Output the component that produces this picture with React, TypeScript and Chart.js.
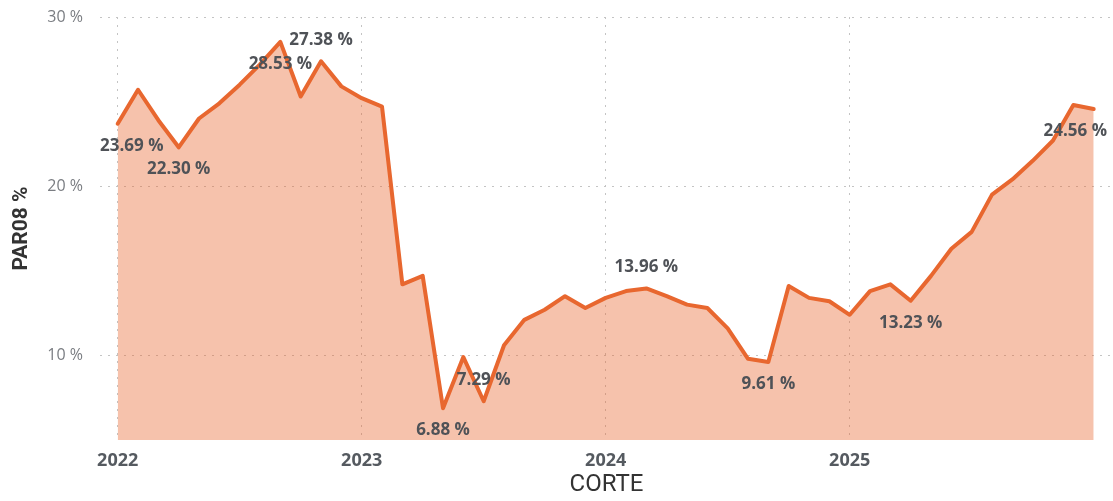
import React, { useEffect, useRef } from "react";
import { Chart, registerables } from "chart.js";

Chart.register(...registerables);

const months = [
  "2022-01", "2022-02", "2022-03", "2022-04", "2022-05", "2022-06", "2022-07", "2022-08", "2022-09", "2022-10", "2022-11", "2022-12",
  "2023-01", "2023-02", "2023-03", "2023-04", "2023-05", "2023-06", "2023-07", "2023-08", "2023-09", "2023-10", "2023-11", "2023-12",
  "2024-01", "2024-02", "2024-03", "2024-04", "2024-05", "2024-06", "2024-07", "2024-08", "2024-09", "2024-10", "2024-11", "2024-12",
  "2025-01", "2025-02", "2025-03", "2025-04", "2025-05", "2025-06", "2025-07", "2025-08", "2025-09", "2025-10", "2025-11", "2025-12",
  "2026-01",
];

const par08 = [
  23.69, 25.7, 23.9, 22.3, 24.0, 24.9, 26.0, 27.2, 28.53, 25.3, 27.38, 25.9,
  25.2, 24.7, 14.2, 14.7, 6.88, 9.9, 7.29, 10.6, 12.1, 12.7, 13.5, 12.8,
  13.4, 13.8, 13.96, 13.5, 13.0, 12.8, 11.6, 9.8, 9.61, 14.1, 13.4, 13.2,
  12.4, 13.8, 14.2, 13.23, 14.7, 16.3, 17.3, 19.5, 20.4, 21.5, 22.7, 24.8,
  24.56,
];

const yearTickIndex = [0, 12, 24, 36];
const yearTickLabels = ["2022", "2023", "2024", "2025"];
const yTicks = [10, 20, 30];

const labelIndex = [0, 3, 8, 10, 16, 18, 26, 32, 39, 48];
const labelSide = ["below", "below", "below", "above", "below", "above", "above", "below", "below", "below"];

const LINE = "#E8672F";
const FILL = "rgba(232,103,47,0.40)";

const dataLabelPlugin = {
  id: "pointLabels",
  afterDatasetsDraw(chart: any) {
    const ctx = chart.ctx;
    const meta = chart.getDatasetMeta(0);
    ctx.save();
    ctx.font = "bold 17px 'Open Sans', sans-serif";
    ctx.fillStyle = "#4f5257";
    ctx.textAlign = "center";
    ctx.textBaseline = "middle";
    labelIndex.forEach((idx, k) => {
      const pt = meta.data[idx];
      if (!pt) return;
      const text = par08[idx].toFixed(2) + " %";
      const w = ctx.measureText(text).width;
      let x = pt.x;
      if (x - w / 2 < chart.chartArea.left) x = chart.chartArea.left + w / 2;
      if (x + w / 2 > chart.width - 6) x = chart.width - 6 - w / 2;
      const y = labelSide[k] === "above" ? pt.y - 21 : pt.y + 22;
      ctx.fillText(text, x, y);
    });
    ctx.restore();
  },
};

export default function App() {
  const ref = useRef<HTMLCanvasElement | null>(null);

  useEffect(() => {
    if (!ref.current) return;
    const chart = new Chart(ref.current, {
      type: "line",
      data: {
        datasets: [
          {
            label: "PAR08 %",
            data: months.map((m, i) => ({ x: i, y: par08[i] })),
            borderColor: LINE,
            backgroundColor: FILL,
            borderWidth: 4,
            fill: "start",
            pointRadius: 0,
            tension: 0,
            borderJoinStyle: "round",
            borderCapStyle: "round",
          },
        ],
      },
      options: {
        animation: false,
        responsive: true,
        maintainAspectRatio: false,
        layout: { padding: { top: 17, right: 0, left: 0, bottom: 0 } },
        plugins: {
          legend: { display: false },
          tooltip: { enabled: false },
        },
        scales: {
          x: {
            type: "linear",
            min: -0.87,
            max: 48.95,
            afterBuildTicks: (scale: any) => {
              scale.ticks = yearTickIndex.map((v) => ({ value: v }));
            },
            afterFit: (scale: any) => {
              scale.height = 61;
              scale.paddingLeft = 0;
              scale.paddingRight = 0;
            },
            ticks: {
              padding: 10,
              color: "#555a60",
              font: { family: "'Open Sans', sans-serif", size: 18, weight: "bold" },
              callback: (v: any) => {
                const k = yearTickIndex.indexOf(Number(v));
                return k >= 0 ? yearTickLabels[k] : "";
              },
              maxRotation: 0,
              autoSkip: false,
            },
            grid: {
              color: "#c4c4c4",
              lineWidth: 1,
              drawTicks: false,
            },
            border: { display: false, dash: [2, 6] },
            title: {
              display: true,
              text: "CORTE",
              color: "#333333",
              font: { family: "Roboto, sans-serif", size: 24 },
              padding: { top: 0, bottom: 2 },
            },
          },
          y: {
            min: 5,
            max: 30,
            afterBuildTicks: (scale: any) => {
              scale.ticks = yTicks.map((v) => ({ value: v }));
            },
            afterFit: (scale: any) => {
              scale.width = 100;
              scale.paddingTop = 0;
              scale.paddingBottom = 0;
            },
            ticks: {
              padding: 17,
              color: "#7a7d82",
              font: { family: "'Open Sans', sans-serif", size: 16 },
              callback: (v: any) => v + " %",
            },
            grid: {
              color: "#c4c4c4",
              lineWidth: 1,
              drawTicks: false,
            },
            border: { display: false, dash: [2, 6] },
            title: {
              display: true,
              text: "PAR08 %",
              color: "#333333",
              font: { family: "Roboto, sans-serif", size: 21, weight: "bold" },
              padding: { top: 9, bottom: 0 },
            },
          },
        },
      } as any,
      plugins: [dataLabelPlugin],
    });
    return () => chart.destroy();
  }, []);

  return (
    <div style={{ position: "fixed", left: 0, top: 0, width: 1113, height: 501, background: "#fff" }}>
      <canvas ref={ref} />
    </div>
  );
}
